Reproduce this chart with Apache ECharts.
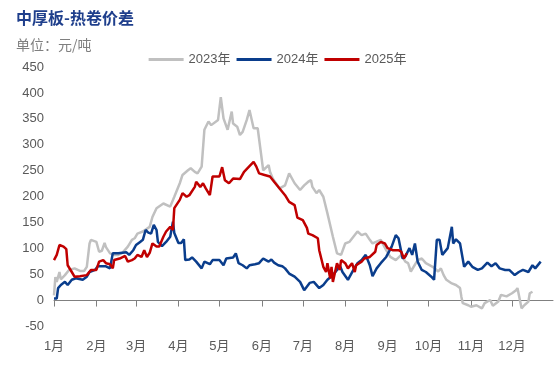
<!DOCTYPE html>
<html><head><meta charset="utf-8">
<script src="https://cdn.jsdelivr.net/npm/echarts@6/dist/echarts.min.js"></script>
<style>html,body{margin:0;padding:0;background:#fff}#c{width:555px;height:380px}</style>
</head><body><div id="c"></div>
<script>
var monthLabels = ['1月','2月','3月','4月','5月','6月','7月','8月','9月','10月','11月','12月'];
var monthStarts = [0,31,60,91,121,152,182,213,244,274,305,335];
var yTicks = {min:-50, max:450, interval:50};

var days2023 = [0,1,2,4,5,8,11,15,19,22,24,26,27,31,33,35,37,38,41,44,47,50,54,57,59,61,65,70,72,75,80,85,88,92,94,98,100,103,105,108,110,113,115,120,122,124,127,130,131,134,136,138,141,143,146,149,153,157,158,160,165,169,172,176,180,183,186,188,189,192,194,197,200,204,207,210,213,216,222,225,228,231,233,239,243,246,250,254,257,259,261,266,269,272,277,281,283,285,287,291,294,297,298,299,303,305,309,313,315,319,321,325,327,331,335,338,339,342,344,347,348,350];
var vals2023 = [10,45,36,55,41,49,59,62,57,57,65,110,117,113,94,96,111,103,91,88,88,92,104,117,120,129,133,142,161,178,187,181,200,226,242,251,255,248,245,258,329,345,338,348,392,351,329,364,341,335,319,325,348,367,332,332,251,261,248,235,216,222,245,226,213,222,229,232,219,207,213,200,168,123,91,88,110,113,133,126,129,117,110,117,97,84,78,88,75,72,56,78,81,72,65,56,62,49,40,33,30,24,7,-5,-9,-12,-9,-15,-5,1,-10,-2,11,8,14,20,24,-15,-9,-2,14,17];

var days2024 = [0,2,3,5,8,10,13,16,21,24,26,30,32,38,41,43,47,53,55,58,60,63,65,67,69,71,73,75,76,79,82,85,87,88,91,93,95,96,99,101,104,108,110,114,116,121,124,126,131,133,135,138,141,143,147,150,153,155,157,159,161,164,167,169,172,176,180,183,187,190,194,197,200,204,207,209,211,215,219,222,225,228,231,233,236,239,243,247,250,252,255,257,260,262,264,266,269,272,276,278,280,282,284,288,291,292,294,297,300,303,306,310,313,317,320,323,326,330,333,337,340,343,347,350,352,356];
var vals2024 = [4,4,24,30,36,30,40,43,40,46,55,59,66,66,62,91,91,93,88,97,107,113,117,136,131,129,146,136,113,105,113,123,152,130,111,111,118,78,79,83,75,62,75,70,78,78,68,81,83,91,72,68,62,68,70,72,81,78,75,79,73,68,66,62,52,46,36,20,34,36,24,30,40,49,59,68,55,40,59,72,78,88,68,47,62,72,84,104,126,120,81,85,101,88,110,75,59,55,46,40,117,117,88,101,142,110,118,110,65,75,65,59,62,73,66,72,62,59,59,49,55,59,55,68,62,75];

var days2025 = [0,2,4,7,9,10,13,15,19,24,27,31,33,36,38,41,43,44,48,52,54,57,59,61,64,66,68,70,72,75,77,80,82,85,87,88,92,94,97,99,103,104,107,109,111,114,116,121,123,125,128,131,136,139,143,146,148,150,154,158,161,165,169,172,176,178,182,185,186,189,193,194,197,199,200,202,203,204,207,209,210,213,215,218,220,221,225,227,231,235,236,239,242,244,248,252,254,256,258];
var vals2025 = [78,88,107,104,99,68,55,46,47,49,59,59,75,78,72,70,62,78,81,86,75,78,81,88,84,97,84,92,110,104,104,123,133,142,136,178,194,207,200,203,219,229,219,226,216,203,239,239,257,232,226,235,234,248,259,267,258,245,242,239,229,216,203,190,184,160,155,140,129,126,120,97,65,55,72,43,65,36,72,59,78,72,62,72,55,68,75,81,84,94,107,113,110,101,97,97,94,81,91];

var categories = [];
for (var i = 0; i < 366; i++) categories.push(i);

function pairs(d, v) { return d.map(function (x, i) { return [x, v[i]]; }); }

var chart = echarts.init(document.getElementById('c'), null, {renderer: 'canvas'});
chart.setOption({
  animation: false,
  title: [
    {text: '中厚板-热卷价差', left: 11, top: 5, textStyle: {fontFamily: 'Noto Sans CJK SC', fontSize: 16, fontWeight: 'bold', color: '#1f3f8c'}},
    {text: '单位：元/吨', left: 11, top: 33, textStyle: {fontFamily: 'Noto Sans CJK SC', fontSize: 14, fontWeight: 'normal', color: '#7f7f7f'}}
  ],
  legend: {
    top: 48, left: 'center', icon: 'rect', itemWidth: 35, itemHeight: 3, itemGap: 6,
    textStyle: {fontFamily: 'Liberation Sans, Noto Sans CJK SC', fontSize: 13, color: '#595959'},
    data: ['2023年', '2024年', '2025年']
  },
  grid: {left: 54, right: 2, top: 67, bottom: 53.5, containLabel: false},
  xAxis: {
    type: 'category', data: categories, boundaryGap: false,
    axisLine: {onZero: true, lineStyle: {color: '#808080', width: 1}},
    axisTick: {show: true, length: 6, interval: function (idx) { return monthStarts.indexOf(idx) >= 0; }, lineStyle: {color: '#808080'}},
    axisLabel: {
      interval: function (idx) { return monthStarts.indexOf(idx) >= 0; },
      formatter: function (v, idx) { var k = monthStarts.indexOf(Number(v)); return k >= 0 ? monthLabels[k] : ''; },
      margin: 13, fontSize: 13, color: '#595959', fontFamily: 'Liberation Sans, Noto Sans CJK SC'
    },
    splitLine: {show: false}
  },
  yAxis: {
    type: 'value', min: yTicks.min, max: yTicks.max, interval: yTicks.interval,
    axisLine: {show: false}, axisTick: {show: false}, splitLine: {show: false},
    axisLabel: {margin: 10, fontSize: 13, color: '#595959', fontFamily: 'Liberation Sans'}
  },
  series: [
    {name: '2023年', type: 'line', data: pairs(days2023, vals2023), symbol: 'none', lineStyle: {color: '#c0c0c0', width: 2.5}, itemStyle: {color: '#c0c0c0'}, z: 1},
    {name: '2024年', type: 'line', data: pairs(days2024, vals2024), symbol: 'none', lineStyle: {color: '#0a3d8c', width: 2.5}, itemStyle: {color: '#0a3d8c'}, z: 2},
    {name: '2025年', type: 'line', data: pairs(days2025, vals2025), symbol: 'none', lineStyle: {color: '#c00000', width: 2.5}, itemStyle: {color: '#c00000'}, z: 3}
  ]
});
</script></body></html>
